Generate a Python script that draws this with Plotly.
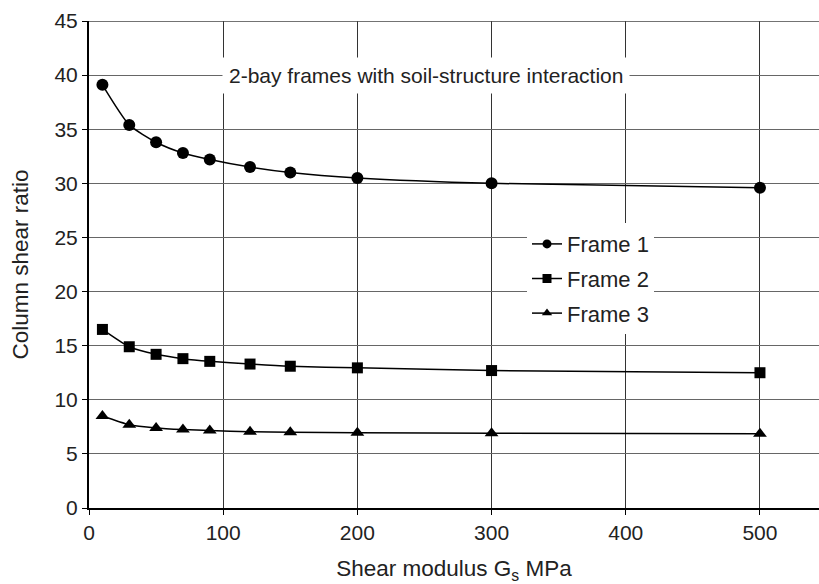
import plotly.graph_objects as go

shear_modulus = [10, 30, 50, 70, 90, 120, 150, 200, 300, 500]
frame1 = [39.1, 35.4, 33.8, 32.8, 32.2, 31.5, 31.0, 30.5, 30.0, 29.6]
frame2 = [16.5, 14.9, 14.2, 13.8, 13.55, 13.3, 13.1, 12.95, 12.7, 12.5]
frame3 = [8.5, 7.7, 7.4, 7.25, 7.15, 7.05, 7.0, 6.95, 6.9, 6.85]
series_names = ["Frame 1", "Frame 2", "Frame 3"]
symbols = ["circle", "square", "triangle-up"]

fig = go.Figure()
for name, vals, sym in zip(series_names, [frame1, frame2, frame3], symbols):
    fig.add_trace(go.Scatter(
        x=shear_modulus, y=vals, name=name, mode="lines+markers",
        showlegend=False, legendgroup=name,
        line=dict(color="black", width=1.5, shape="spline", smoothing=0.6),
        marker=dict(symbol=sym, size=12 if sym != "square" else 11, color="black"),
    ))
# legend entries with smaller markers, as in the reference
for name, sym in zip(series_names, symbols):
    fig.add_trace(go.Scatter(
        x=[None], y=[None], name=name, mode="lines+markers",
        legendgroup=name, showlegend=True,
        line=dict(color="black", width=1.5),
        marker=dict(symbol=sym, size=9, color="black"),
    ))

font = "Liberation Sans, Arial, sans-serif"
fig.update_layout(
    width=819, height=584,
    margin=dict(l=89, r=0, t=21, b=76),
    paper_bgcolor="white", plot_bgcolor="white",
    font=dict(family=font, size=21, color="#222"),
    showlegend=True,
    legend=dict(x=0.60, y=0.585, xanchor="left", yanchor="top",
                bgcolor="white", borderwidth=0, font=dict(size=22),
                traceorder="grouped", tracegroupgap=3, itemwidth=30),
    xaxis=dict(range=[0, 544], tickvals=[0, 100, 200, 300, 400, 500],
               showgrid=True, gridcolor="#333", gridwidth=1,
               showline=True, linecolor="black", linewidth=2,
               ticks="outside", ticklen=5, tickcolor="black",
               zeroline=False,
               title=dict(text="Shear modulus G<sub>s</sub> MPa", font=dict(size=22.5), standoff=21)),
    yaxis=dict(range=[0, 45], tickvals=list(range(0, 50, 5)),
               showgrid=True, gridcolor="#666", gridwidth=1,
               showline=True, linecolor="black", linewidth=2,
               ticks="outside", ticklen=5, tickcolor="black",
               zeroline=False,
               title=dict(text="Column shear ratio", font=dict(size=22.5), standoff=20)),
    annotations=[dict(x=0.462, y=40, xref="paper", yref="y",
                      text="2-bay frames with soil-structure interaction",
                      showarrow=False, bgcolor="white", borderpad=6,
                      font=dict(size=21, color="#222"))],
    shapes=[dict(type="line", xref="paper", yref="y", x0=0, x1=1, y0=45, y1=45,
                 line=dict(color="#444", width=1.5))],
)

fig.write_html("out.html")
